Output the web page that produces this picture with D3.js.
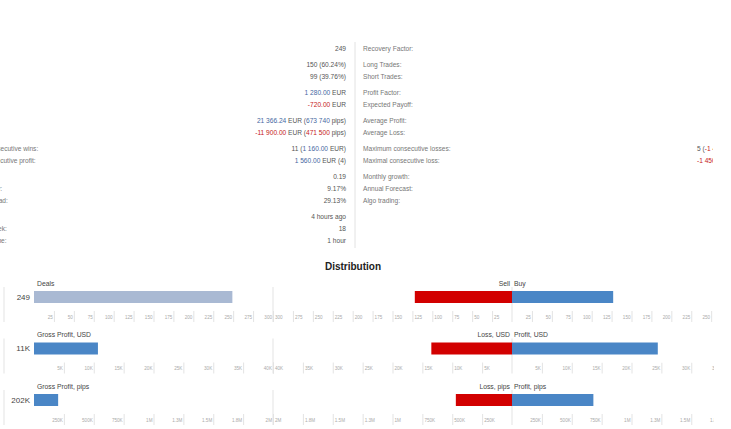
<!DOCTYPE html>
<html><head><meta charset="utf-8">
<script src="https://cdn.jsdelivr.net/npm/d3@7"></script>
<style>
html,body{margin:0;padding:0;background:#fff;}
svg{display:block;font-family:"Liberation Sans",Arial,sans-serif;}
</style></head>
<body>
<script>
// ---------- statistics table ----------
const leftLabels = ["Trades:", "Profit Trades:", "Loss Trades:", "Best trade:", "Worst trade:", "Gross Profit:", "Gross Loss:", "Maximum consecutive wins:", "Maximal consecutive profit:", "Sharpe Ratio:", "Trading activity:", "Max deposit load:", "Latest trade:", "Trades per week:", "Avg holding time:"];
const rowGroups = [0, 1, 1, 2, 2, 3, 3, 4, 4, 5, 5, 5, 6, 6, 6];
// value segments: [text, tone]  tone: n = neutral, b = blue, r = red
const leftValues = [
  [["249", "n"]],
  [["150 (60.24%)", "n"]],
  [["99 (39.76%)", "n"]],
  [["1 280.00", "b"], [" EUR", "n"]],
  [["-720.00", "r"], [" EUR", "n"]],
  [["21 366.24", "b"], [" EUR (", "n"], ["673 740", "b"], [" pips)", "n"]],
  [["-11 900.00", "r"], [" EUR (", "n"], ["471 500", "r"], [" pips)", "n"]],
  [["11 (", "n"], ["1 160.00", "b"], [" EUR)", "n"]],
  [["1 560.00", "b"], [" EUR (4)", "n"]],
  [["0.19", "n"]],
  [["9.17%", "n"]],
  [["29.13%", "n"]],
  [["4 hours ago", "n"]],
  [["18", "n"]],
  [["1 hour", "n"]]
];
const rightLabels = ["Recovery Factor:", "Long Trades:", "Short Trades:", "Profit Factor:", "Expected Payoff:", "Average Profit:", "Average Loss:", "Maximum consecutive losses:", "Maximal consecutive loss:", "Monthly growth:", "Annual Forecast:", "Algo trading:", "", "", ""];
const rightValues = [null, null, null, null, null, null, null,
  [["5 (", "n"], ["-1 450.00", "r"], [" EUR)", "n"]],
  [["-1 450.00", "r"], [" EUR (5)", "n"]],
  null, null, null, null, null, null];

// ---------- distribution ----------
const distTitle = "Distribution";
const leftTitles = ["Deals", "Gross Profit, USD", "Gross Profit, pips"];
const leftBars = [249, 10700, 202000];
const leftBarLabels = ["249", "11K", "202K"];
const sellTitles = ["Sell", "Loss, USD", "Loss, pips"];
const buyTitles = ["Buy", "Profit, USD", "Profit, pips"];
const sellBars = [122, 13500, 470000];
const buyBars = [127, 24400, 681000];
const axisMax = [300, 40000, 2000000];
const tickValues = [
  [25, 50, 75, 100, 125, 150, 175, 200, 225, 250, 275, 300],
  [5000, 10000, 15000, 20000, 25000, 30000, 35000, 40000],
  [250000, 500000, 750000, 1000000, 1250000, 1500000, 1750000, 2000000]
];
const tickLabels = [
  ["25", "50", "75", "100", "125", "150", "175", "200", "225", "250", "275", "300"],
  ["5K", "10K", "15K", "20K", "25K", "30K", "35K", "40K"],
  ["250K", "500K", "750K", "1M", "1.3M", "1.5M", "1.8M", "2M"]
];

const W = 731, H = 429;
const toneColor = {n: "#555", b: "#46689f", r: "#c62020"};
const svg = d3.select("body").append("svg").attr("width", W).attr("height", H);
svg.append("rect").attr("width", W).attr("height", H).attr("fill", "#fff");

const defs = svg.append("defs");
defs.append("clipPath").attr("id", "rclip")
  .append("rect").attr("x", 0).attr("y", 0).attr("width", 714).attr("height", H);
defs.append("clipPath").attr("id", "vclip")
  .append("rect").attr("x", 0).attr("y", 0).attr("width", 713).attr("height", H);

// table
const rowY = (i) => 49 + i * 12 + rowGroups[i] * 4;
const fs = 6.6;
// left label start: measured so that "ecutive" begins at the left edge
const probe = svg.append("text").attr("font-size", fs).text("Maximum cons");
const x0 = -probe.node().getComputedTextLength() + 0.5;
probe.remove();

svg.append("line").attr("x1", 355).attr("x2", 355).attr("y1", 42).attr("y2", 248)
  .attr("stroke", "#e2e2e2").attr("stroke-width", 1);

const tbl = svg.append("g").attr("font-size", fs);
tbl.selectAll("text.ll").data(leftLabels).join("text").attr("class", "ll")
  .attr("x", x0).attr("y", (d, i) => rowY(i) + 2.4).attr("fill", "#777").text(d => d);
tbl.selectAll("text.lv").data(leftValues).join("text").attr("class", "lv")
  .attr("x", 346).attr("y", (d, i) => rowY(i) + 2.4).attr("text-anchor", "end")
  .each(function(d) {
    d3.select(this).selectAll("tspan").data(d).join("tspan")
      .attr("fill", s => toneColor[s[1]]).text(s => s[0]);
  });
tbl.selectAll("text.rl").data(rightLabels).join("text").attr("class", "rl")
  .attr("x", 363).attr("y", (d, i) => rowY(i) + 2.4).attr("fill", "#777").text(d => d);
tbl.append("g").attr("clip-path", "url(#vclip)")
  .selectAll("text.rv").data(rightValues.map((v, i) => ({v, i})).filter(o => o.v)).join("text").attr("class", "rv")
  .attr("x", 697).attr("y", o => rowY(o.i) + 2.4)
  .each(function(o) {
    d3.select(this).selectAll("tspan").data(o.v).join("tspan")
      .attr("fill", s => toneColor[s[1]]).text(s => s[0]);
  });

// title
svg.append("text").attr("x", 353).attr("y", 269.5).attr("text-anchor", "middle")
  .attr("font-size", 10).attr("font-weight", "bold").attr("fill", "#222").text(distTitle);

const colLeft = "#a9b9d3", colBlue = "#4a86c6", colRed = "#d20000";

leftTitles.forEach((t, r) => {
  const base = 283 + r * 51.5;
  const g = svg.append("g");
  const sL = d3.scaleLinear().domain([0, axisMax[r]]).range([34, 273]);
  const sS = d3.scaleLinear().domain([0, axisMax[r]]).range([512, 273]);
  const sB = d3.scaleLinear().domain([0, axisMax[r]]).range([512, 751]);

  // frame lines
  [4, 273, 512].forEach(x => g.append("line").attr("x1", x).attr("x2", x)
    .attr("y1", base + 4).attr("y2", base + 39).attr("stroke", "#e3e3e3"));

  // titles
  g.append("text").attr("x", 37).attr("y", base + 2.5).attr("font-size", 6.8).attr("fill", "#444").text(t);
  g.append("text").attr("x", 510).attr("y", base + 2.5).attr("font-size", 6.8).attr("fill", "#444")
    .attr("text-anchor", "end").text(sellTitles[r]);
  g.append("text").attr("x", 514).attr("y", base + 2.5).attr("font-size", 6.8).attr("fill", "#444").text(buyTitles[r]);

  // bars
  g.append("rect").attr("x", sL(0)).attr("y", base + 8).attr("width", sL(leftBars[r]) - sL(0))
    .attr("height", 12).attr("fill", r === 0 ? colLeft : colBlue);
  g.append("text").attr("x", 30).attr("y", base + 14).attr("dy", "0.35em").attr("text-anchor", "end")
    .attr("font-size", 8).attr("fill", "#444").text(leftBarLabels[r]);
  g.append("rect").attr("x", sS(sellBars[r])).attr("y", base + 8).attr("width", sS(0) - sS(sellBars[r]))
    .attr("height", 12).attr("fill", colRed);
  g.append("rect").attr("x", sB(0)).attr("y", base + 8).attr("width", sB(buyBars[r]) - sB(0))
    .attr("height", 12).attr("fill", colBlue).attr("clip-path", "url(#rclip)");

  // axes
  const mk = (scale, side, clip) => {
    const ax = g.append("g").attr("transform", `translate(0,${base + 28})`)
      .call(d3.axisBottom(scale).tickValues(tickValues[r]).tickSize(11).tickSizeOuter(0)
        .tickFormat((d, i) => tickLabels[r][i]));
    if (clip) ax.attr("clip-path", "url(#rclip)");
    ax.select(".domain").remove();
    ax.selectAll(".tick line").attr("stroke", "#e3e3e3");
    ax.selectAll(".tick text").attr("font-size", 4.6).attr("fill", "#aaa")
      .attr("font-family", "'Liberation Sans',Arial,sans-serif")
      .attr("y", 6).attr("dy", "0.35em")
      .attr("x", side === "start" ? 1.5 : -1.5).attr("text-anchor", side);
  };
  mk(sL, "end", false);
  mk(sS, "start", false);
  mk(sB, "end", true);
});
</script>
</body></html>
